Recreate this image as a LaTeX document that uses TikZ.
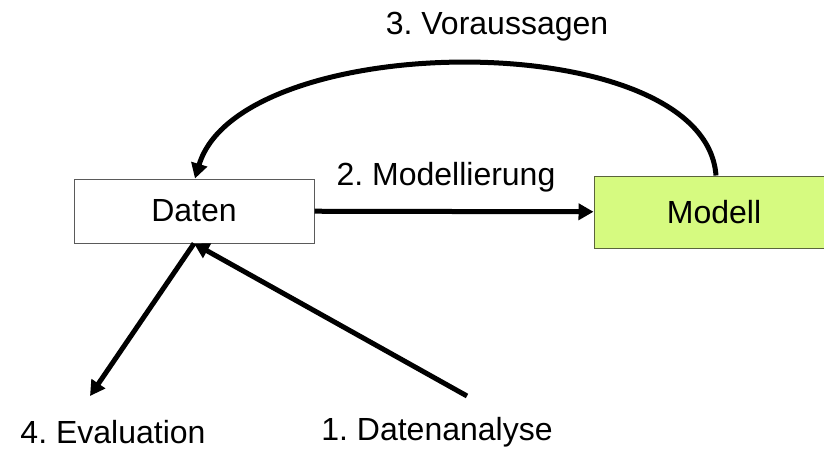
\documentclass[tikz,border=0pt]{standalone}
\usepackage{fontspec}
\setmainfont{Liberation Sans}
\usetikzlibrary{arrows.meta}
\definecolor{limegreen}{RGB}{214, 250, 128}
\definecolor{olivegray}{RGB}{ 90, 100, 60 }
\definecolor{boxgray}{RGB}{ 90, 90, 90 }
\frenchspacing

\begin{document}
\begin{tikzpicture}[x=1pt,y=-1pt,font=\fontsize{32}{38}\selectfont]
\tikzstyle{box node}=[draw=boxgray,line width=1pt,minimum width=240pt,inner sep=0pt]
\tikzstyle{flow}=[line width=5pt,-{Triangle[length=15pt,width=16pt]}]

\useasboundingbox (0,0) rectangle (824,450);

\node(daten)[box node,minimum height=64pt] at (194,211) {Daten};
\node(modell)[box node,draw=olivegray,fill=limegreen,minimum height=72pt] at (714,212) {Modell};

% free ends of the lower arrows
\coordinate (evalend) at (90,396);
\coordinate (analysestart) at (467,396);

% step labels
\node(l1) at (437,432) {1. Datenanalyse};
\node(l2) at (446,177) {2. Modellierung};
\node(l3) at (497,27) {3. Voraussagen};
\node(l4) at (113,432) {4. Evaluation};

% arrows
\draw[flow] (analysestart) -- (daten.south);
\draw[flow] (daten) -- (modell);
\draw[flow] ([xshift=2pt]modell.north) .. controls (705,24) and (240,28) .. ([xshift=1pt]daten.north);
\draw[flow] (daten.south) -- (evalend);

\end{tikzpicture}
\end{document}
